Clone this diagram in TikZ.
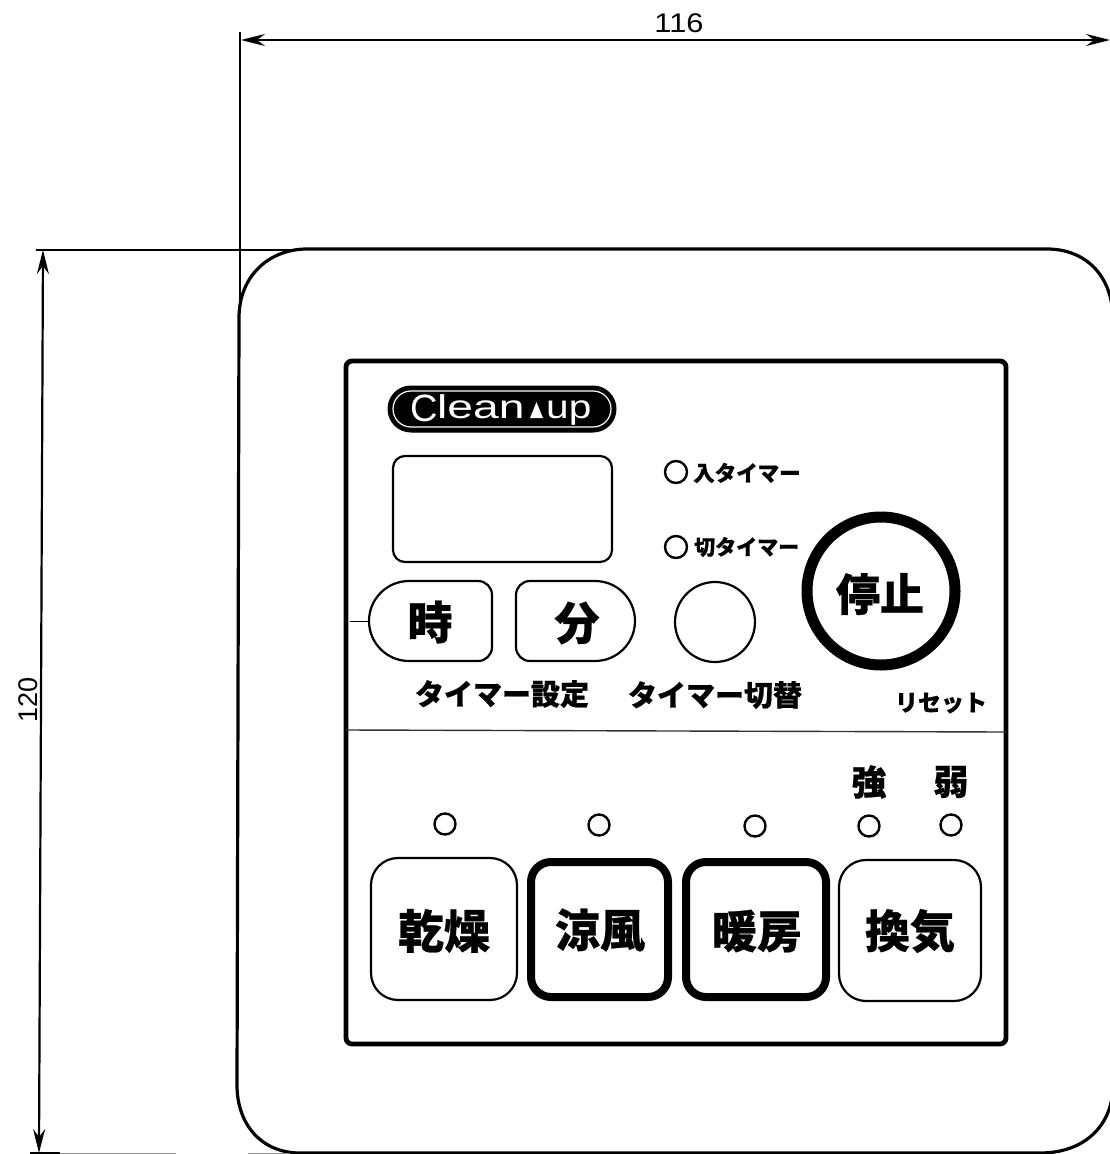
\documentclass[tikz,border=0pt]{standalone}
\usepackage{fontspec}
\usetikzlibrary{arrows.meta}
\setmainfont{Liberation Sans}
\newfontfamily\cjk{Noto Sans CJK JP}[BoldFeatures={FakeBold=0.6}]
\newcommand{\fs}[1]{\fontsize{#1pt}{#1pt}\selectfont}
\tikzset{
  ln/.style={line width=2.2pt,black},
  dimln/.style={line width=2.2pt,black},
  dimar/.style={line width=2.2pt,black,{Stealth[length=24pt,width=12pt,inset=8pt]}-{Stealth[length=24pt,width=12pt,inset=8pt]}},
  led/.style={circle,draw,line width=2.4pt,minimum size=21pt,inner sep=0pt},
  jp/.style={font=\cjk\bfseries\fs{#1},inner sep=0pt},
  dimtxt/.style={font=\fs{27},inner sep=0pt},
  softbtn/.style={draw,line width=2.2pt,rounded corners=27pt},
  hardbtn/.style={draw,line width=8pt,rounded corners=20pt},
  logotxt/.style={inner sep=0pt,text=white,anchor=base west,font=\fs{#1}},
}
\begin{document}
\begin{tikzpicture}[x=1pt,y=-1pt]
\useasboundingbox (0,0) rectangle (1110,1154);
% outer panel
\draw[line width=3.2pt] (239,318) .. controls (239,275) and (270,249) .. (307,249) -- (1047,249) .. controls (1085,249) and (1113,275) .. (1113,320) -- (1113,1085) .. controls (1113,1125) and (1085,1153) .. (1040,1153) -- (300,1153) .. controls (262,1153) and (237,1125) .. (237,1085) -- cycle;
% dimension lines
\coordinate (hL) at (241,40); \coordinate (hR) at (1110,40);
\coordinate (vT) at (43,250); \coordinate (vB) at (39,1153);
\draw[dimar] (hL) -- (hR);
\draw[dimar] (vT) -- (vB);
\coordinate (e1a) at (240,32); \coordinate (e1b) at (240,310);
\coordinate (e2a) at (36,250); \coordinate (e2b) at (300,250);
\coordinate (e3a) at (30,1153); \coordinate (e3b) at (60,1153);
\draw[dimln] (e1a) -- (e1b);
\draw[dimln] (e2a) -- (e2b);
\draw[dimln] (e3a) -- (e3b);
\draw[line width=1.2pt,black!45] (60,1153.5) -- (176,1153.5) (248,1153.5) -- (290,1153.5);
\node[dimtxt] (w) at (679,23) {\scalebox{1.14}[1]{116}};
\node[dimtxt,rotate=90] (h) at (28,700) {120};
% inner panel
\draw[line width=4.8pt,rounded corners=6pt] (346,361) rectangle (1006,1044);
\coordinate (dL) at (346,730); \coordinate (dR) at (1006,732);
\draw[line width=1.4pt,black!80] (dL) -- (dR);
% logo
\draw[fill=black,draw=black,line width=1pt,rounded corners=23pt] (388,386) rectangle (616,432);
\draw[white,line width=1.2pt,rounded corners=18pt] (393,391) rectangle (611,427);
\node[logotxt=38] (logoC) at (410,421) {C};
\node[logotxt=33] (logoA) at (437,418.5) {\scalebox{1.4}[1]{lean}};
\fill[white] (530,418) -- (536.5,402) -- (543,418) -- cycle;
\node[logotxt=33] (logoB) at (546,418.5) {\scalebox{1.23}[1]{up}};
% display
\draw[ln,rounded corners=12pt] (393,456) rectangle (612,562);
% timer buttons
\draw[ln] (409,581) -- (478,581) arc[start angle=90,end angle=0,radius=14pt] -- (492,647) arc[start angle=0,end angle=-90,radius=14pt] -- (409,661) arc[start angle=270,end angle=90,radius=40pt] -- cycle;
\draw[ln] (595,581) -- (530,581) arc[start angle=90,end angle=180,radius=14pt] -- (516,647) arc[start angle=180,end angle=270,radius=14pt] -- (595,661) arc[start angle=-90,end angle=90,radius=40pt] -- cycle;
\coordinate (tick) at (350,621); \coordinate (tickE) at (369,621);
\draw[line width=1pt] (tick) -- (tickE);
\node[jp=45] (ji) at (430,622) {時};
\node[jp=45] (fun) at (577,623) {分};
\node[jp=29] (set) at (502,694) {タイマー設定};
\node[jp=29] (sw) at (715,695) {タイマー切替};
% timer lamps
\node[led,minimum size=22pt] (l1) at (676,472) {};
\node[led,minimum size=22pt] (l2) at (676,547) {};
\node[jp=21.5,anchor=west] (t1) at (693,473) {入タイマー};
\node[jp=21,anchor=west] (t2) at (694,547) {切タイマー};
\node[circle,draw,line width=2.2pt,minimum size=80pt,inner sep=0pt] (tb) at (715,622) {};
% stop
\node[circle,draw,line width=11pt,minimum size=148pt,inner sep=0pt] (stop) at (881,591) {};
\node[jp=44] (stopt) at (880,594) {停止};
\node[jp=23] (rs) at (941,703) {リセット};
% fan
\node[jp=35] (st) at (869,782) {強};
\node[jp=35] (wk) at (951,782) {弱};
\node[led] (a) at (445,824) {};
\node[led] (b) at (599,825) {};
\node[led] (c) at (755,826) {};
\node[led] (d) at (869,826) {};
\node[led] (e) at (951,825) {};
% mode buttons
\draw[softbtn] (371,858) rectangle (517,1000);
\draw[hardbtn] (531,862) rectangle (668,997);
\draw[hardbtn] (686,862) rectangle (826,997);
\draw[softbtn] (839,860) rectangle (981,1001);
\node[jp=46] (m1) at (444,931) {乾燥};
\node[jp=45] (m2) at (600,930) {涼風};
\node[jp=45] (m3) at (757,931) {暖房};
\node[jp=45] (m4) at (910,931) {換気};
\end{tikzpicture}
\end{document}
